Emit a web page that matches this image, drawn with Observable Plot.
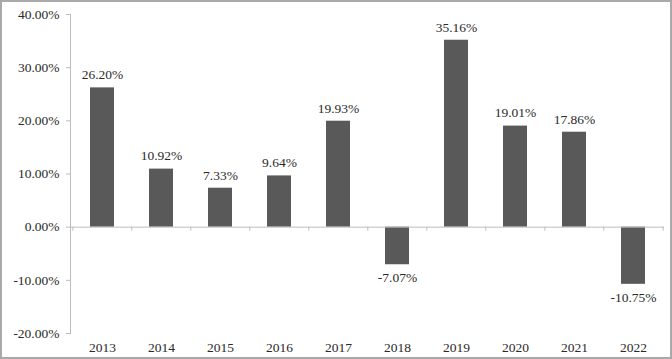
<!DOCTYPE html>
<html>
<head>
<meta charset="utf-8">
<script src="https://cdn.jsdelivr.net/npm/d3@7"></script>
<script src="https://cdn.jsdelivr.net/npm/@observablehq/plot@0.6"></script>
<style>
  html, body { margin: 0; padding: 0; background: #fff; }
  #chart svg { display: block; outline: 2px solid #a9a9a9; outline-offset: -2px; }
</style>
</head>
<body>
<div id="chart"></div>
<script>
const years = ["2013","2014","2015","2016","2017","2018","2019","2020","2021","2022"];
const returns = [26.20, 10.92, 7.33, 9.64, 19.93, -7.07, 35.16, 19.01, 17.86, -10.75];
const yTicks = [-20, -10, 0, 10, 20, 30, 40];

const data = years.map((y, i) => ({year: y, value: returns[i]}));
const W = 672, H = 359, mL = 70, mR = 8;
const step = (W - mL - mR) / years.length;
const fmt = d => d.toFixed(2) + "%";
const axisColor = "#bcbcbc";
const textColor = "#2a2a2a";

const chart = Plot.plot({
  width: W,
  height: H,
  marginLeft: mL,
  marginRight: mR,
  marginTop: 14,
  marginBottom: 26,
  style: {fontFamily: "'Liberation Serif', 'Times New Roman', serif", fontSize: "13.5px", color: textColor, background: "#fff"},
  x: {domain: years, paddingInner: 0.6, paddingOuter: 0.3, label: null},
  y: {domain: [-20, 40], label: null},
  marks: [
    Plot.frame({anchor: "left", stroke: axisColor}),
    Plot.axisY({ticks: yTicks, tickFormat: fmt, tickSize: 4, tickPadding: 7, stroke: axisColor, fill: textColor, fontSize: "13.5px"}),
    Plot.axisX({tickSize: 0, tickPadding: 9, fill: textColor, fontSize: "13.5px"}),
    Plot.barY(data, {x: "year", y: "value", fill: "#595959"}),
    Plot.ruleY([0], {stroke: axisColor}),
    Plot.ruleX(data, {x: "year", y1: 0, y2: 0, insetBottom: -4, dx: -step / 2, stroke: axisColor}),
    Plot.ruleX(data.slice(-1), {x: "year", y1: 0, y2: 0, insetBottom: -4, dx: step / 2, stroke: axisColor}),
    Plot.text(data.filter(d => d.value >= 0), {x: "year", y: "value", text: d => fmt(d.value), dy: -13, fill: textColor, fontSize: "13.5px"}),
    Plot.text(data.filter(d => d.value < 0), {x: "year", y: "value", text: d => fmt(d.value), dy: 13, fill: textColor, fontSize: "13.5px"})
  ]
});
document.getElementById("chart").appendChild(chart);
</script>
</body>
</html>
